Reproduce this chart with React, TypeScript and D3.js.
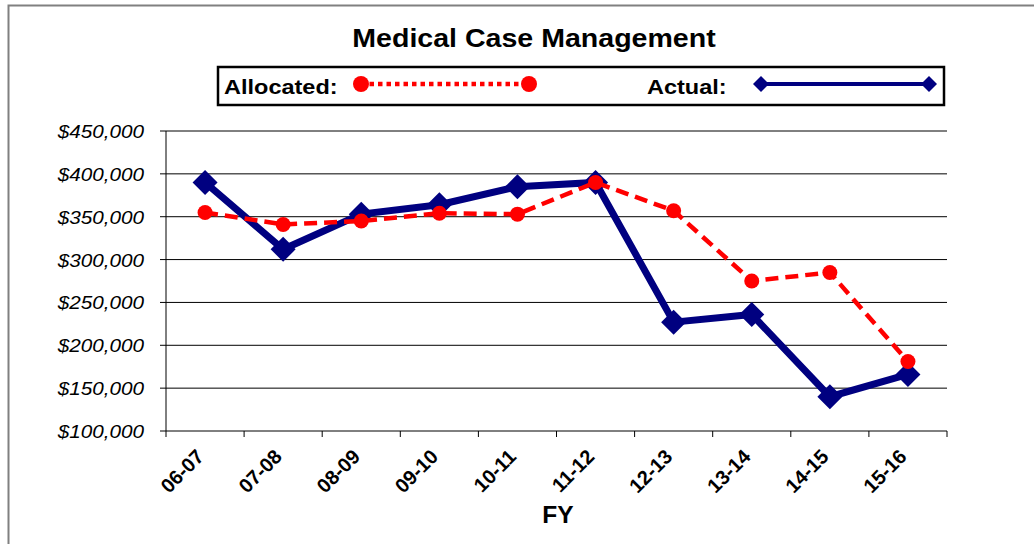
import React from "react";
import * as d3 from "d3";

const categories = ["06-07", "07-08", "08-09", "09-10", "10-11", "11-12", "12-13", "13-14", "14-15", "15-16"];
const allocated = [355000, 341000, 345000, 354000, 353000, 390000, 357000, 275000, 285000, 181000];
const actual = [390000, 312000, 353000, 364000, 385000, 390000, 227000, 236000, 140000, 166000];
const yTicks = [100000, 150000, 200000, 250000, 300000, 350000, 400000, 450000];

const W = 1034, H = 544;
const left = 166, right = 947, top = 131, bottom = 431;
const SX = 1.12;
const FONT = "Liberation Sans, Arial, sans-serif";

export default function App() {
  const x = d3.scaleBand<string>().domain(categories).range([left, right]);
  const y = d3.scaleLinear().domain([100000, 450000]).range([bottom, top]);
  const cx = (c: string) => (x(c) as number) + x.bandwidth() / 2;
  const line = d3.line<number>().x((_, i) => cx(categories[i])).y((v) => y(v));
  const fmt = (v: number) => "$" + d3.format(",")(v);
  const diamond = (px: number, py: number, r: number) =>
    `M${px},${py - r}L${px + r},${py}L${px},${py + r}L${px - r},${py}Z`;

  return (
    <svg width={W} height={H} style={{ position: "absolute", left: 0, top: 0 }} fontFamily={FONT}>
      <rect x={0} y={0} width={W} height={H} fill="#fff" />
      <rect x={8.5} y={5.5} width={W + 20} height={H + 20} fill="none" stroke="#808080" strokeWidth={2} />
      <text transform={`translate(534,47) scale(${SX},1)`} textAnchor="middle" fontWeight="bold" fontSize={25.5}>
        Medical Case Management
      </text>
      {/* legend */}
      <rect x={218} y={67} width={726} height={38} fill="#fff" stroke="#000" strokeWidth={2.5} />
      <text transform={`translate(224,94) scale(${SX},1)`} fontWeight="bold" fontSize={21}>Allocated:</text>
      <line x1={361} x2={529} y1={84} y2={84} stroke="#ff0000" strokeWidth={4.5} strokeDasharray="4.5,4" />
      <circle cx={361} cy={84} r={8} fill="#ff0000" />
      <circle cx={529} cy={84} r={8} fill="#ff0000" />
      <text transform={`translate(647,94) scale(${SX},1)`} fontWeight="bold" fontSize={21}>Actual:</text>
      <line x1={760} x2={930} y1={84} y2={84} stroke="#000080" strokeWidth={4} />
      <path d={diamond(761, 84, 8)} fill="#000080" />
      <path d={diamond(929, 84, 8)} fill="#000080" />
      {/* grid */}
      {yTicks.map((t) => (
        <g key={t}>
          {t > 100000 && <line x1={left} x2={right} y1={y(t)} y2={y(t)} stroke="#000" strokeWidth={1} />}
          <line x1={left - 6} x2={left} y1={y(t)} y2={y(t)} stroke="#000" strokeWidth={1} />
          <text transform={`translate(144,${y(t) + 7}) scale(${SX},1)`} textAnchor="end" fontStyle="italic" fontSize={18.5}>
            {fmt(t)}
          </text>
        </g>
      ))}
      <line x1={left} x2={left} y1={top} y2={bottom} stroke="#000" strokeWidth={1} />
      <line x1={left} x2={right} y1={bottom} y2={bottom} stroke="#000" strokeWidth={1} />
      {categories.map((c) => (
        <line key={c} x1={x(c) as number} x2={x(c) as number} y1={bottom} y2={bottom + 6} stroke="#000" />
      ))}
      <line x1={right} x2={right} y1={bottom} y2={bottom + 6} stroke="#000" />
      {categories.map((c) => (
        <text key={c} transform={`translate(${cx(c)},458) rotate(-45)`} textAnchor="end" fontWeight="bold" fontSize={20}>
          {c}
        </text>
      ))}
      <text x={558} y={523} textAnchor="middle" fontWeight="bold" fontSize={24.5}>FY</text>
      {/* series */}
      <path d={line(actual) as string} fill="none" stroke="#000080" strokeWidth={7} strokeLinejoin="miter" />
      {actual.map((v, i) => (
        <path key={i} d={diamond(cx(categories[i]), y(v), 12.5)} fill="#000080" />
      ))}
      <path d={line(allocated) as string} fill="none" stroke="#ff0000" strokeWidth={4.5} strokeDasharray="13,7" />
      {allocated.map((v, i) => (
        <circle key={i} cx={cx(categories[i])} cy={y(v)} r={7.5} fill="#ff0000" />
      ))}
    </svg>
  );
}
